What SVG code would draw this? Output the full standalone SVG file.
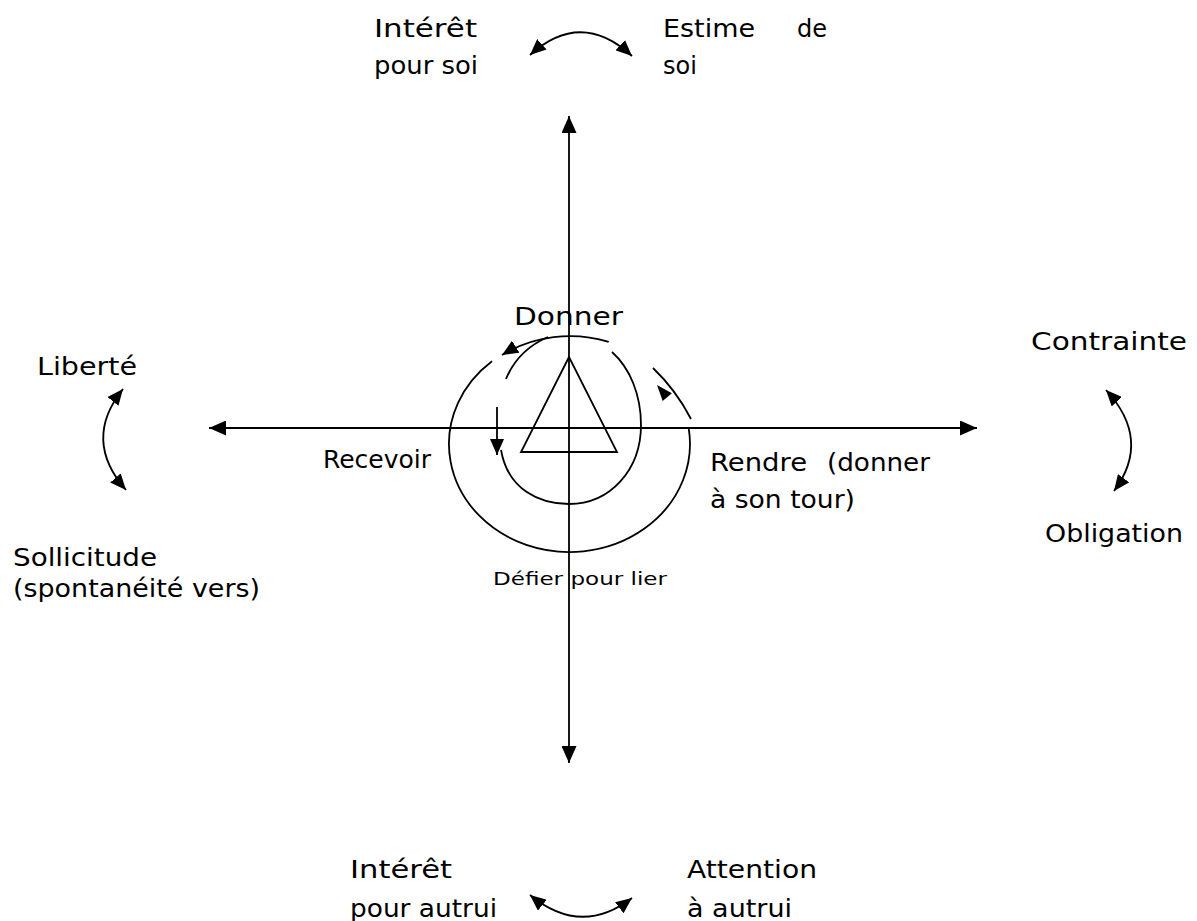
<svg xmlns="http://www.w3.org/2000/svg" width="1197" height="921" viewBox="0 0 1197 921">
<style>
  .t { font-family: "DejaVu Sans", "Liberation Sans", sans-serif; font-size: 24px; fill: #000; }
  .s { font-family: "DejaVu Sans", "Liberation Sans", sans-serif; font-size: 18px; fill: #000; }
  .ln { fill: none; stroke: #000; stroke-width: 1.8; }
</style>
<defs>
  <marker id="ah" markerUnits="userSpaceOnUse" markerWidth="17" markerHeight="15" refX="17" refY="7.5" orient="auto-start-reverse">
    <path d="M0,0 L17,7.5 L0,15 z" fill="#000"/>
  </marker>
  <marker id="ahs" markerUnits="userSpaceOnUse" markerWidth="16" markerHeight="14" refX="16" refY="7" orient="auto-start-reverse">
    <path d="M0,0 L16,7 L0,14 z" fill="#000"/>
  </marker>
</defs>

<g id="connectors">
  <line class="ln" x1="569" y1="116" x2="569" y2="763" marker-start="url(#ah)" marker-end="url(#ah)"/>
  <line class="ln" x1="209" y1="428" x2="977" y2="428" marker-start="url(#ah)" marker-end="url(#ah)"/>
  <path class="ln" d="M530,55 Q581,9 632,56" marker-start="url(#ahs)" marker-end="url(#ahs)"/>
  <path class="ln" d="M530,895 Q581,937 632,898" marker-start="url(#ahs)" marker-end="url(#ahs)"/>
  <path class="ln" d="M123,389 Q82,440 126,490" marker-start="url(#ahs)" marker-end="url(#ahs)"/>
  <path class="ln" d="M1106,390 Q1152,440 1114,491" marker-start="url(#ahs)" marker-end="url(#ahs)"/>
</g>

<g id="cycle">
  <path class="ln" d="M608.7,341.9 A120.5,108 0 0 0 502,355" marker-end="url(#ahs)"/>
  <path class="ln" d="M492,361.3 A120.5,108 0 1 0 688.8,429"/>
  <path class="ln" d="M691,419 Q676,390 653,368"/>
  <polygon points="657,385 671.9,393.3 662.7,401.1" fill="#000"/>
  <path class="ln" d="M506,379 Q518,350 548,337"/>
  <line class="ln" x1="497" y1="407" x2="497" y2="455" marker-end="url(#ahs)"/>
  <path class="ln" d="M501,450 C508,490 540,504 569,504 C610,504 641,470 641,425 C641,395 630,368 612,352"/>
  <polygon class="ln" points="569,357 521,452 617,452"/>
</g>

<g id="labels">
  <text class="t" x="374" y="37" textLength="103" lengthAdjust="spacingAndGlyphs">Intérêt</text>
  <text class="t" x="374" y="74" textLength="104" lengthAdjust="spacingAndGlyphs">pour soi</text>
  <text class="t" x="663" y="37" textLength="92" lengthAdjust="spacingAndGlyphs">Estime</text>
  <text class="t" x="797" y="37">de</text>
  <text class="t" x="663" y="74">soi</text>
  <text class="t" x="37" y="375" textLength="100" lengthAdjust="spacingAndGlyphs">Liberté</text>
  <text class="t" x="13" y="566" textLength="144" lengthAdjust="spacingAndGlyphs">Sollicitude</text>
  <text class="t" x="13" y="597" textLength="247" lengthAdjust="spacingAndGlyphs">(spontanéité vers)</text>
  <text class="t" x="1031" y="350" textLength="156" lengthAdjust="spacingAndGlyphs">Contrainte</text>
  <text class="t" x="1045" y="542" textLength="138" lengthAdjust="spacingAndGlyphs">Obligation</text>
  <text class="t" x="514" y="325" textLength="109" lengthAdjust="spacingAndGlyphs">Donner</text>
  <text class="t" x="323" y="468" textLength="108" lengthAdjust="spacingAndGlyphs">Recevoir</text>
  <text class="t" x="710" y="471" textLength="97" lengthAdjust="spacingAndGlyphs">Rendre</text>
  <text class="t" x="827" y="471" textLength="103" lengthAdjust="spacingAndGlyphs">(donner</text>
  <text class="t" x="710" y="508" textLength="145" lengthAdjust="spacingAndGlyphs">à son tour)</text>
  <text class="s" x="493" y="585" textLength="174" lengthAdjust="spacingAndGlyphs">Défier pour lier</text>
  <text class="t" x="350" y="878" textLength="102" lengthAdjust="spacingAndGlyphs">Intérêt</text>
  <text class="t" x="350" y="917" textLength="147" lengthAdjust="spacingAndGlyphs">pour autrui</text>
  <text class="t" x="687" y="878" textLength="130" lengthAdjust="spacingAndGlyphs">Attention</text>
  <text class="t" x="687" y="917" textLength="105" lengthAdjust="spacingAndGlyphs">à autrui</text>
</g>
</svg>
